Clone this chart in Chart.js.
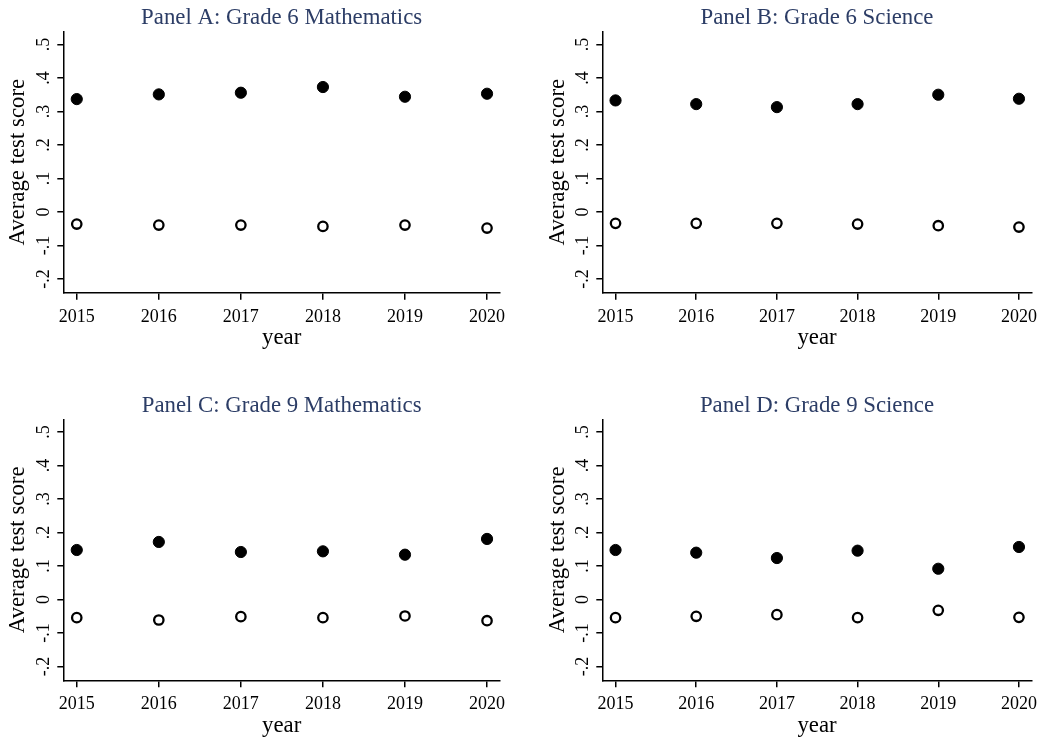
<!DOCTYPE html>
<html>
<head>
<meta charset="utf-8">
<title>Average test score by year</title>
<script src="https://cdn.jsdelivr.net/npm/chart.js@4.4.1/dist/chart.umd.min.js"></script>
<style>
  html, body { margin: 0; padding: 0; background: #ffffff; }
  body { width: 1050px; height: 739px; position: relative; overflow: hidden; }
  canvas { position: absolute; display: block; }
</style>
</head>
<body>
<canvas id="panelA" width="525" height="365" style="left:0;top:0"></canvas>
<canvas id="panelB" width="525" height="365" style="left:525px;top:0"></canvas>
<canvas id="panelC" width="525" height="374" style="left:0;top:365px"></canvas>
<canvas id="panelD" width="525" height="374" style="left:525px;top:365px"></canvas>
<script>
// ---- data ----
const years = [2015, 2016, 2017, 2018, 2019, 2020];
const yTicks = [-0.2, -0.1, 0, 0.1, 0.2, 0.3, 0.4, 0.5];
const yTickLabels = ['-.2', '-.1', '0', '.1', '.2', '.3', '.4', '.5'];

const panelTitles = [
  'Panel A: Grade 6 Mathematics',
  'Panel B: Grade 6 Science',
  'Panel C: Grade 9 Mathematics',
  'Panel D: Grade 9 Science'
];

// filled markers (upper group) and hollow markers (lower group)
const g6MathUpper = [0.337, 0.351, 0.356, 0.373, 0.344, 0.353];
const g6MathLower = [-0.036, -0.039, -0.039, -0.043, -0.039, -0.048];
const g6SciUpper  = [0.333, 0.322, 0.313, 0.322, 0.350, 0.338];
const g6SciLower  = [-0.034, -0.034, -0.034, -0.036, -0.041, -0.045];
const g9MathUpper = [0.148, 0.172, 0.142, 0.144, 0.134, 0.181];
const g9MathLower = [-0.054, -0.061, -0.051, -0.054, -0.049, -0.063];
const g9SciUpper  = [0.148, 0.140, 0.124, 0.146, 0.092, 0.157];
const g9SciLower  = [-0.054, -0.050, -0.045, -0.054, -0.032, -0.053];

// ---- styling ----
const SERIF = '"Liberation Serif", "Times New Roman", Times, serif';
const TITLE_COLOR = '#2c3d66';
const INK = '#000000';

function toPoints(vals) {
  return years.map((yr, i) => ({ x: yr, y: vals[i] }));
}

function makePanel(id, title, upper, lower, frame) {
  const ctx = document.getElementById(id).getContext('2d');
  return new Chart(ctx, {
    type: 'scatter',
    data: {
      datasets: [
        {
          data: toPoints(upper),
          pointStyle: 'circle',
          pointRadius: 5.6,
          pointBorderWidth: 1,
          pointBackgroundColor: INK,
          pointBorderColor: INK,
          pointHoverRadius: 5.6
        },
        {
          data: toPoints(lower),
          pointStyle: 'circle',
          pointRadius: 4.7,
          pointBorderWidth: 2.3,
          pointBackgroundColor: '#ffffff',
          pointBorderColor: INK,
          pointHoverRadius: 4.7
        }
      ]
    },
    options: {
      responsive: false,
      animation: false,
      devicePixelRatio: 1,
      events: [],
      layout: { padding: frame.padding },
      plugins: {
        legend: { display: false },
        tooltip: { enabled: false },
        title: {
          display: true,
          text: title,
          fullSize: false,
          color: TITLE_COLOR,
          font: { family: SERIF, size: 22.8, weight: 'normal', lineHeight: 1.2 },
          padding: frame.titlePadding
        }
      },
      scales: {
        x: {
          type: 'linear',
          min: 2014.836,
          max: 2020.158,
          afterBuildTicks: s => { s.ticks = years.map(v => ({ value: v })); },
          afterFit: s => { s.height = 58; },
          border: { display: true, color: INK, width: 1.5 },
          grid: {
            display: true,
            drawOnChartArea: false,
            drawTicks: true,
            tickLength: 7,
            color: INK,
            lineWidth: 1.5
          },
          ticks: {
            autoSkip: false,
            maxRotation: 0,
            minRotation: 0,
            padding: 6.5,
            color: INK,
            font: { family: SERIF, size: 18, lineHeight: 1.2 },
            callback: v => String(v)
          },
          title: {
            display: true,
            text: 'year',
            color: INK,
            font: { family: SERIF, size: 22.8, lineHeight: 1.2 },
            padding: { top: 0, bottom: -1 }
          }
        },
        y: {
          type: 'linear',
          min: -0.241,
          max: 0.538,
          afterBuildTicks: s => { s.ticks = yTicks.map(v => ({ value: v })); },
          afterFit: s => { s.width = frame.yAxisWidth; },
          border: { display: true, color: INK, width: 1.5 },
          grid: {
            display: true,
            drawOnChartArea: false,
            drawTicks: true,
            tickLength: 6,
            color: INK,
            lineWidth: 1.5
          },
          ticks: {
            autoSkip: false,
            minRotation: 90,
            maxRotation: 90,
            crossAlign: 'center',
            padding: 3.5,
            color: INK,
            font: { family: SERIF, size: 18, lineHeight: 1.2 },
            callback: (v) => {
              const i = yTicks.findIndex(t => Math.abs(t - v) < 1e-9);
              return i >= 0 ? yTickLabels[i] : '';
            }
          },
          title: {
            display: true,
            text: 'Average test score',
            color: INK,
            font: { family: SERIF, size: 22.8, lineHeight: 1.2 },
            padding: { top: 4.5, bottom: 0 }
          }
        }
      }
    }
  });
}

// ---- panel frames (left column / right column, top row / bottom row) ----
const leftCol  = { left: 0,  right: 25,   yAxisWidth: 63.3 };
const rightCol = { left: 15, right: 18.3, yAxisWidth: 62.3 };
const topRow    = { top: 0, bottom: 14.3, titlePadding: { top: 4.3, bottom: 0.1 } };
const bottomRow = { top: 0, bottom: 0.7,  titlePadding: { top: 27.0, bottom: 0.0 } };

function frameFor(col, row) {
  return {
    padding: { left: col.left, right: col.right, top: row.top, bottom: row.bottom },
    yAxisWidth: col.yAxisWidth,
    titlePadding: row.titlePadding
  };
}

makePanel('panelA', panelTitles[0], g6MathUpper, g6MathLower, frameFor(leftCol, topRow));
makePanel('panelB', panelTitles[1], g6SciUpper,  g6SciLower,  frameFor(rightCol, topRow));
makePanel('panelC', panelTitles[2], g9MathUpper, g9MathLower, frameFor(leftCol, bottomRow));
makePanel('panelD', panelTitles[3], g9SciUpper,  g9SciLower,  frameFor(rightCol, bottomRow));
</script>
</body>
</html>
